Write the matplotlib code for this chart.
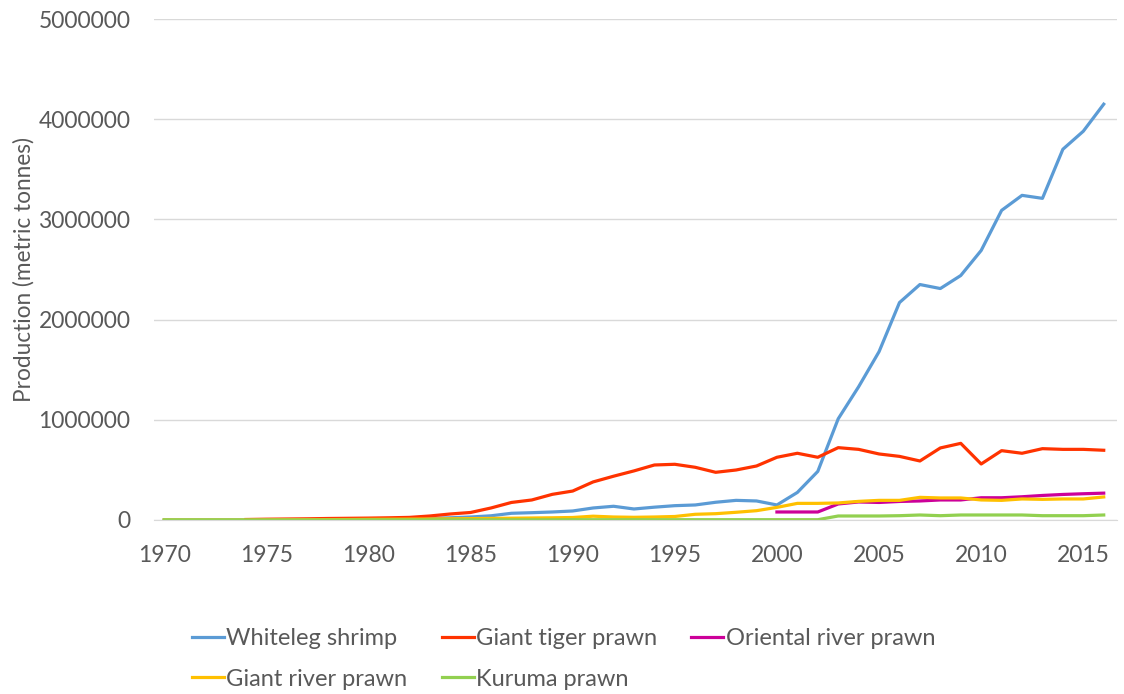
import numpy as np
import matplotlib.pyplot as plt

# годовое производство креветок, тонн
years = list(range(1970, 2017))

whiteleg = [0, 0, 0, 0, 0, 100, 500, 1000, 2000, 4000,
            7000, 9000, 12000, 16000, 22000, 30000, 42000, 67000, 73000, 80000,
            90000, 120000, 137000, 110000, 128000, 143000, 150000, 177000, 196000, 190000,
            150000, 275000, 485000, 1010000, 1330000, 1680000, 2170000, 2350000, 2310000, 2440000,
            2690000, 3090000, 3240000, 3210000, 3700000, 3880000, 4150000]

tiger = [np.nan, np.nan, np.nan, np.nan, 5000, 8000, 10000, 12000, 15000, 17000,
         19000, 22000, 26000, 40000, 60000, 75000, 120000, 175000, 200000, 256000,
         289000, 380000, 437000, 490000, 549000, 556000, 526000, 476000, 499000, 539000,
         626000, 666000, 626000, 722000, 705000, 659000, 635000, 589000, 719000, 765000,
         559000, 692000, 666000, 712000, 705000, 705000, 696000]

oriental = [np.nan] * 30 + [80000, 80000, 80000, 160000, 180000, 175000, 185000, 190000,
                            200000, 200000, 222000, 222000, 232000, 245000, 255000, 262000, 268000]

giant_river = [0, 0, 0, 0, 0, 1000, 2000, 3000, 4000, 5000,
               7000, 8000, 9000, 10000, 12000, 14000, 16000, 18000, 20000, 22000,
               25000, 38000, 30000, 27000, 30000, 35000, 57000, 63000, 77000, 93000,
               126000, 166000, 166000, 170000, 186000, 196000, 196000, 226000, 220000, 220000,
               200000, 196000, 210000, 206000, 210000, 210000, 230000]

kuruma = [1000] * 10 + [2000] * 10 + [3000] * 13 + [40000, 40000, 40000, 43000, 50000, 43000,
                                                    50000, 50000, 50000, 50000, 43000, 43000,
                                                    43000, 50000]

series = [("Whiteleg shrimp", whiteleg, "#5B9BD5"),
          ("Giant tiger prawn", tiger, "#FF3300"),
          ("Oriental river prawn", oriental, "#CC0099"),
          ("Giant river prawn", giant_river, "#FFC000"),
          ("Kuruma prawn", kuruma, "#92D050")]

plt.rcParams['font.family'] = ['Lato', 'DejaVu Sans']
gray = "#595959"

fig = plt.figure(figsize=(11.24, 6.94), dpi=100)
ax = fig.add_axes([154 / 1124, 174 / 694, 963 / 1124, 501 / 694])

lines = []
for name, vals, col in series:
    ln, = ax.plot(years, vals, color=col, lw=2.3, label=name, solid_joinstyle='round')
    lines.append(ln)

ax.set_xlim(1969.5, 2016.65)
ax.set_ylim(0, 5000000)
ax.set_xticks(range(1970, 2016, 5))
ax.set_yticks(range(0, 5000001, 1000000))
ax.set_yticklabels([str(v) for v in range(0, 5000001, 1000000)])
ax.grid(axis='y', color="#D9D9D9", lw=1)
ax.set_axisbelow(True)
for s in ["top", "right", "left"]:
    ax.spines[s].set_visible(False)
ax.spines["bottom"].set_color("#D9D9D9")
ax.tick_params(axis='both', length=0, labelsize=16.5, labelcolor=gray)
ax.tick_params(axis='y', pad=17)
ax.tick_params(axis='x', pad=18)
ax.set_ylabel("Production (metric tonnes)", fontsize=16.3, color=gray, labelpad=3)

# легенда заполняется по столбцам, поэтому порядок переставлен
order = [0, 3, 1, 4, 2]
fig.legend([lines[i] for i in order], [series[i][0] for i in order],
           loc="upper left", bbox_to_anchor=(171 / 1124, 1 - 607 / 694), ncol=3,
           frameon=False, fontsize=17, labelcolor=gray, handlelength=1.35,
           handletextpad=0.1, columnspacing=1.45, labelspacing=0.82)

fig.savefig("out.png", dpi=100)
